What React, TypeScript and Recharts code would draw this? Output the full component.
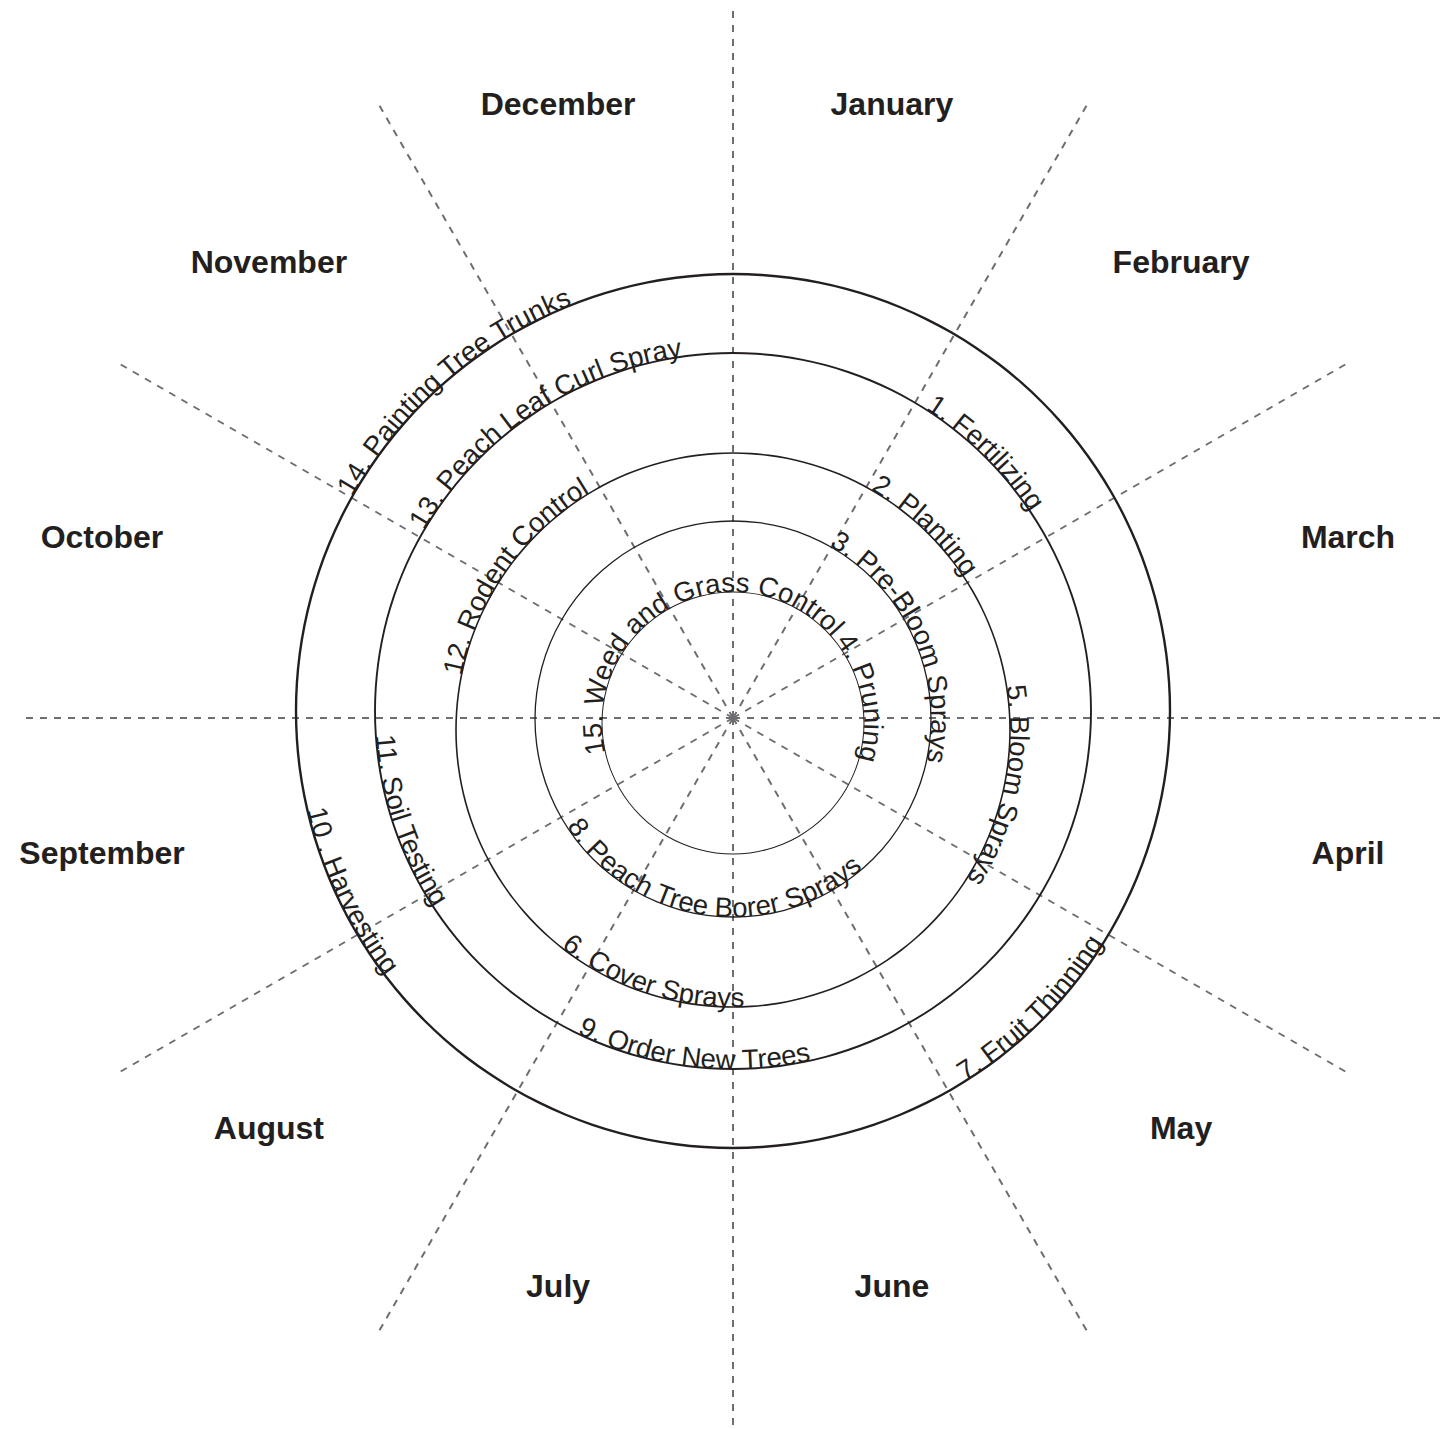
import React from 'react';
import { PieChart, Pie, PolarGrid } from 'recharts';

const MONTHS = [
  'January', 'February', 'March', 'April', 'May', 'June',
  'July', 'August', 'September', 'October', 'November', 'December',
];

// rings, outermost first
const RING_RADIUS = [437, 358, 277, 198, 131];
const RING_CY = [711, 711, 730, 719, 723];
const RING_WIDTH = [2.4, 1.9, 1.6, 1.3, 1];

const TASKS = [
  '1. Fertilizing', '2. Planting', '3. Pre-Bloom Sprays', '4. Pruning', '5. Bloom Sprays',
  '6. Cover Sprays', '7. Fruit Thinning', '8. Peach Tree Borer Sprays', '9. Order New Trees',
  '10 . Harvesting', '11. Soil Testing', '12. Rodent Control', '13. Peach Leaf Curl Spray',
  '14. Painting Tree Trunks', '15. Weed and Grass Control',
];
const TASK_RING = [1, 2, 3, 4, 2, 2, 0, 3, 1, 0, 1, 2, 1, 0, 4];
// position of the label centre, in months from the top (0 = start of January)
const TASK_MONTH = [1.48, 1.44, 2.19, 2.63, 3.39, 6.6, 4.5, 6.27, 6.22, 8.16, 8.38, 10.17, 10.87, 10.63, 11.1];
// 'out' = written clockwise outside the ring, 'in' = counter-clockwise inside it
const TASK_SIDE = ['out', 'out', 'out', 'out', 'out', 'in', 'in', 'in', 'in', 'in', 'in', 'out', 'out', 'out', 'out'];

const CX = 733;
const CY = 718;
const INK = '#231f20';
const RAD = Math.PI / 180;
const HALF = 0.05;

const monthData = MONTHS.map((name) => ({ name, span: 1 }));

const ringData = (ring: number) => {
  const items = TASKS.map((name, i) => ({ name, pos: TASK_MONTH[i], side: TASK_SIDE[i], ring: TASK_RING[i] }))
    .filter((t) => t.ring === ring)
    .sort((a, b) => a.pos - b.pos);
  const out: any[] = [];
  let cur = 0;
  items.forEach((t) => {
    out.push({ name: '', side: '', span: t.pos - HALF - cur });
    out.push({ ...t, span: 2 * HALF });
    cur = t.pos + HALF;
  });
  out.push({ name: '', side: '', span: 12 - cur });
  return out;
};

const MonthLabel = (props: any) => {
  const { cx, cy, midAngle, name } = props;
  const a = (90 - midAngle) * RAD;
  const x = cx - 8 + 645 * Math.sin(a);
  const y = cy - 23 - 612 * Math.cos(a);
  return (
    <text x={x} y={y} textAnchor="middle" dominantBaseline="central"
      fontFamily="'Liberation Sans', Arial, sans-serif" fontWeight="bold" fontSize={32} fill={INK}>
      {name}
    </text>
  );
};

const makeTaskLabel = (ring: number) => (props: any) => {
  const { cx, cy, midAngle, index } = props;
  const item = props.payload ?? props;
  if (!item.side) return null;
  const r = RING_RADIUS[ring];
  const pt = (a: number) => [cx + r * Math.cos(-a * RAD), cy + r * Math.sin(-a * RAD)];
  const out = item.side === 'out';
  const [x0, y0] = pt(out ? midAngle + 100 : midAngle - 100);
  const [x1, y1] = pt(out ? midAngle - 100 : midAngle + 100);
  const id = `task-arc-${ring}-${index}`;
  return (
    <g>
      <path id={id} d={`M${x0},${y0} A${r},${r} 0 1 ${out ? 1 : 0} ${x1},${y1}`} fill="none" stroke="none" />
      <text fontFamily="'Liberation Sans', Arial, sans-serif" fontSize={27.5} fill={INK}>
        <textPath href={`#${id}`} startOffset="50%" textAnchor="middle">{item.name}</textPath>
      </text>
    </g>
  );
};

export default function App() {
  return (
    <div style={{ position: 'absolute', left: 0, top: 0, width: 1442, height: 1429, background: '#fff' }}>
      <PieChart width={1442} height={1429} cx={CX} cy={CY} outerRadius={709} margin={{ top: 0, right: 0, bottom: 0, left: 0 }}>
        <PolarGrid
          cx={CX}
          cy={CY}
          innerRadius={0}
          outerRadius={709}
          gridType="circle"
          polarAngles={[0, 30, 60, 90, 120, 150, 180, 210, 240, 270, 300, 330]}
          polarRadius={[]}
          stroke="#6d6e71"
          strokeWidth={2}
          strokeDasharray="7 7"
        />
        {RING_RADIUS.map((r, i) => (
          <Pie
            key={`ring-${i}`}
            data={[{ name: 'ring', span: 1 }]}
            dataKey="span"
            cx={CX}
            cy={RING_CY[i]}
            innerRadius={r - RING_WIDTH[i] / 2}
            outerRadius={r + RING_WIDTH[i] / 2}
            startAngle={90}
            endAngle={-270}
            fill={INK}
            stroke="none"
            isAnimationActive={false}
          />
        ))}
        {RING_RADIUS.map((r, i) => (
          <Pie
            key={`tasks-${i}`}
            data={ringData(i)}
            dataKey="span"
            cx={CX}
            cy={RING_CY[i]}
            innerRadius={r - 1}
            outerRadius={r}
            startAngle={90}
            endAngle={-270}
            fill="none"
            stroke="none"
            label={makeTaskLabel(i)}
            labelLine={false}
            isAnimationActive={false}
          />
        ))}
        <Pie
          data={monthData}
          dataKey="span"
          cx={CX}
          cy={CY}
          innerRadius={0}
          outerRadius={600}
          startAngle={90}
          endAngle={-270}
          fill="none"
          stroke="none"
          label={MonthLabel}
          labelLine={false}
          isAnimationActive={false}
        />
      </PieChart>
    </div>
  );
}
